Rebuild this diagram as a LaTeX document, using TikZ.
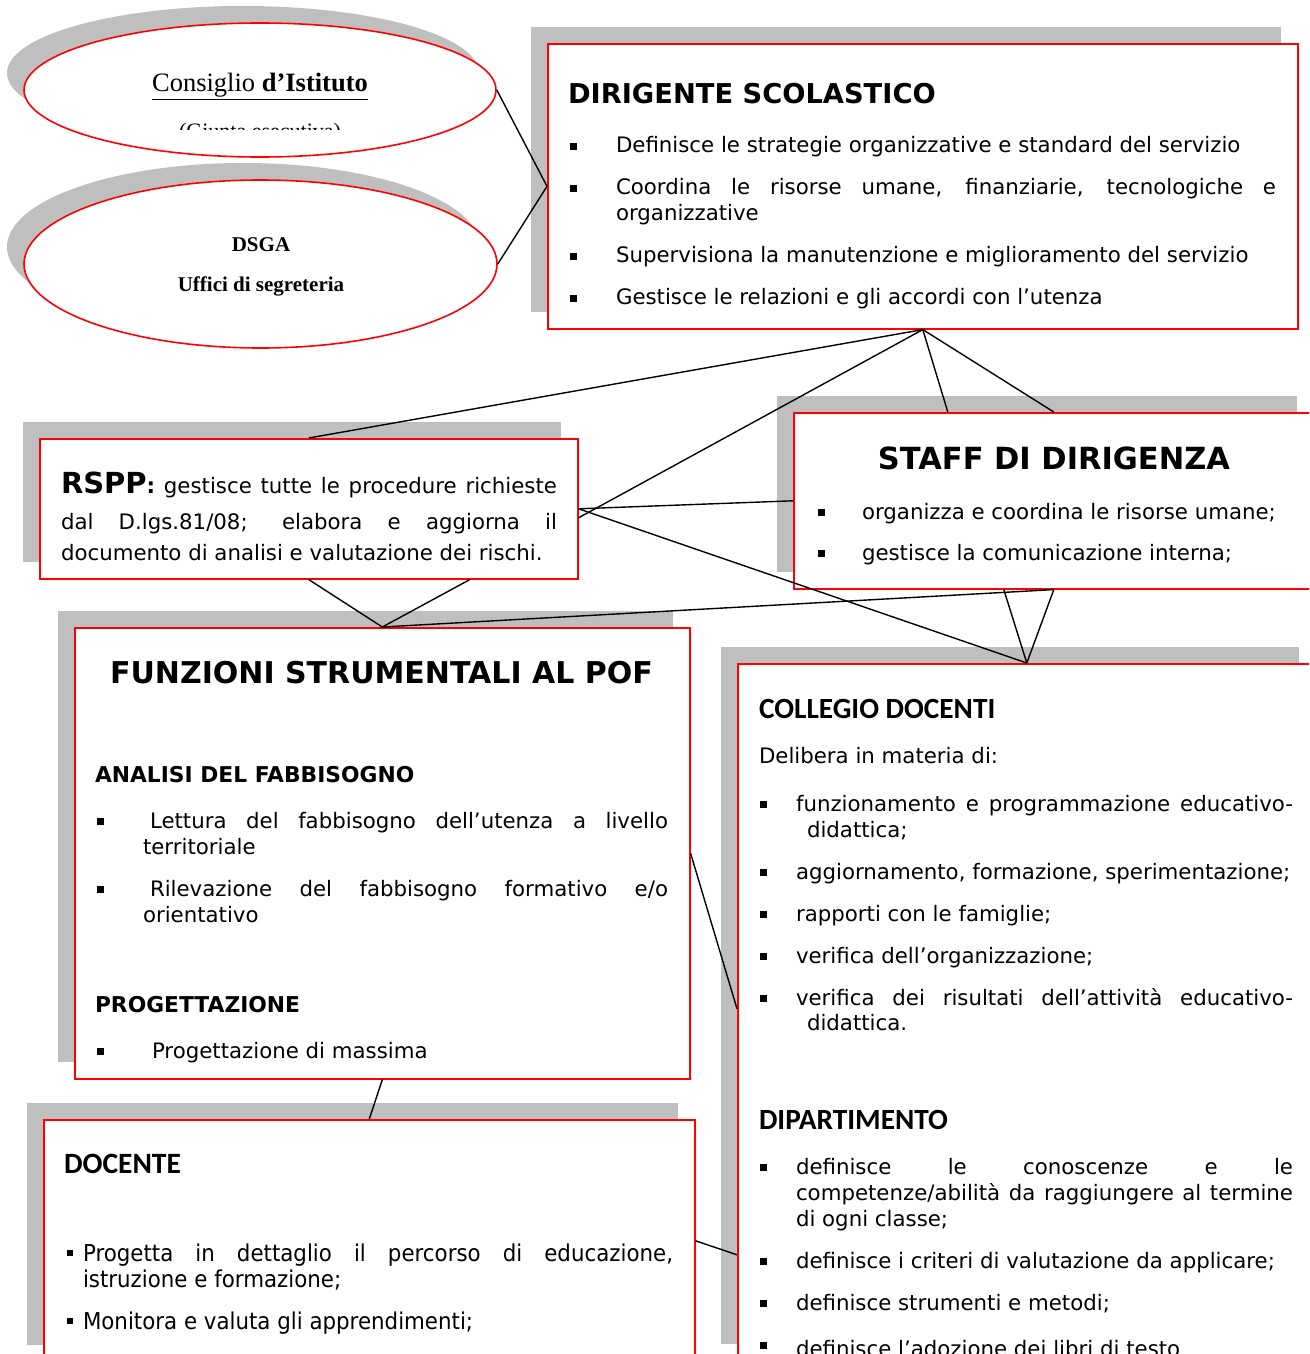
\documentclass[tikz,border=0pt]{standalone}
\usepackage{fontspec}
\setmainfont{DejaVu Sans}
\newfontfamily\carl{Carlito}
\newfontfamily\tnr{Liberation Serif}
\newfontfamily\cond[FakeStretch=0.92]{DejaVu Sans}
\usetikzlibrary{shapes.geometric,shadows,calc}
\definecolor{shade}{RGB}{191,191,191}
\newcommand\fb{\fontsize{21.3}{26}\selectfont}
\begin{document}
\begin{tikzpicture}[x=1pt,y=-1pt,
  shad/.style={drop shadow={shadow xshift=-17pt,shadow yshift=17pt,fill=shade,opacity=1}},
  box/.style={rectangle,draw=red,line width=1.6pt,fill=white,anchor=north west,inner sep=0pt,shad},
  ell/.style={ellipse,draw=red,line width=1.6pt,fill=white,inner sep=0pt,shad},
  txt/.style={anchor=base west,inner sep=0pt,outer sep=0pt,font=\fb},
  ctxt/.style={anchor=base,inner sep=0pt,outer sep=0pt},
  bul/.style={rectangle,fill=black,minimum size=7pt,inner sep=0pt},
  sbul/.style={rectangle,fill=black,minimum size=6pt,inner sep=0pt},
  conn/.style={draw=black,line width=1.4pt}]
\useasboundingbox (0,0) rectangle (1309,1354);
\clip (0,0) rectangle (1309,1354);
\fill[white] (0,0) rectangle (1309,1354);

% ---- ellipses
\node[ell,minimum width=472pt,minimum height=134pt] (ell1) at (260,90) {};
\node[ell,minimum width=473pt,minimum height=168pt] (ell2) at (260.5,264) {};
\node[ctxt,font=\tnr\fontsize{26.5}{30}\selectfont] (ell1t) at (260,92) {\underline{Consiglio \textbf{d’Istituto}}};
\begin{scope}
\clip (100,100) rectangle (420,129.5);
\node[ctxt,font=\tnr\fontsize{22}{25}\selectfont] (ell1s) at (260,138) {(Giunta esecutiva)};
\end{scope}
\node[ctxt,font=\tnr\bfseries\fontsize{21}{25}\selectfont] (ell2t) at (261,251) {DSGA};
\node[ctxt,font=\tnr\bfseries\fontsize{21}{25}\selectfont] (ell2s) at (261,291) {Uffici di segreteria};

% ---- Dirigente
\node[box,minimum width=750pt,minimum height=285pt] (ds) at (547,43) {};
\node[txt,font=\bfseries\fontsize{27.3}{32}\selectfont] (dsT) at (568,103) {DIRIGENTE SCOLASTICO};
\node[bul] (dsb1) at (573.5,146) {};
\node[bul] (dsb2) at (573.5,188) {};
\node[bul] (dsb3) at (573.5,256) {};
\node[bul] (dsb4) at (573.5,298) {};
\node[txt] (ds1) at (616,152) {Definisce le strategie organizzative e standard del servizio};
\node[txt] (ds2a) at (616,194) {\makebox[660pt][s]{Coordina le risorse umane, finanziarie, tecnologiche e}};
\node[txt] (ds2b) at (616,220) {organizzative};
\node[txt] (ds3) at (616,262) {Supervisiona la manutenzione e miglioramento del servizio};
\node[txt] (ds4) at (616,304) {Gestisce le relazioni e gli accordi con l’utenza};

% ---- RSPP
\node[box,minimum width=538pt,minimum height=140pt] (rspp) at (39,438) {};
\node[txt] (rs1) at (61,493) {\makebox[496pt][s]{{\fontsize{29}{34}\selectfont\bfseries RSPP}\textbf{:} gestisce tutte le procedure richieste}};
\node[txt] (rs2) at (61,529) {\makebox[496pt][s]{dal D.lgs.81/08; elabora e aggiorna il}};
\node[txt] (rs3) at (61,560) {documento di analisi e valutazione dei rischi.};

% ---- Staff
\node[box,minimum width=520pt,minimum height=176pt] (staff) at (793,412) {};
\node[ctxt,font=\bfseries\fontsize{30.5}{36}\selectfont] (stT) at (1054,469) {STAFF DI DIRIGENZA};
\node[bul] (stb1) at (821.5,512) {};
\node[bul] (stb2) at (821.5,553) {};
\node[txt] (st1) at (862,519) {organizza e coordina le risorse umane;};
\node[txt] (st2) at (862,560) {gestisce la comunicazione interna;};

% ---- Funzioni
\node[box,minimum width=615pt,minimum height=451pt] (funz) at (74,627) {};
\node[ctxt,font=\bfseries\fontsize{30}{36}\selectfont] (fuT) at (381.5,683) {FUNZIONI STRUMENTALI AL POF};
\node[txt,font=\bfseries\fontsize{21.8}{26}\selectfont] (fuA) at (95,782) {ANALISI DEL FABBISOGNO};
\node[bul] (fub1) at (100.5,821) {};
\node[bul] (fub2) at (100.5,889) {};
\node[bul] (fub3) at (100.5,1051) {};
\node[txt] (fu1a) at (150,828) {\makebox[518pt][s]{Lettura del fabbisogno dell’utenza a livello}};
\node[txt] (fu1b) at (143,854) {territoriale};
\node[txt] (fu2a) at (150,896) {\makebox[518pt][s]{Rilevazione del fabbisogno formativo e/o}};
\node[txt] (fu2b) at (143,922) {orientativo};
\node[txt,font=\bfseries\fontsize{21.8}{26}\selectfont] (fuP) at (95,1012) {PROGETTAZIONE};
\node[txt] (fu3) at (152,1058) {Progettazione di massima};

% ---- Collegio
\node[box,minimum width=578pt,minimum height=697pt] (coll) at (737,663) {};
\node[txt,font=\carl\bfseries\fontsize{29.3}{34}\selectfont] (coT) at (759,718) {COLLEGIO DOCENTI};
\node[txt] (coD) at (759,763) {Delibera in materia di:};
\node[bul] (cob1) at (763.5,804) {};
\node[bul] (cob2) at (763.5,872) {};
\node[bul] (cob3) at (763.5,914) {};
\node[bul] (cob4) at (763.5,956) {};
\node[bul] (cob5) at (763.5,998) {};
\node[txt] (co1a) at (796,811) {\makebox[497pt][s]{funzionamento e programmazione educativo-}};
\node[txt] (co1b) at (807,837) {didattica;};
\node[txt] (co2) at (796,879) {aggiornamento, formazione, sperimentazione;};
\node[txt] (co3) at (796,921) {rapporti con le famiglie;};
\node[txt] (co4) at (796,963) {verifica dell’organizzazione;};
\node[txt] (co5a) at (796,1005) {\makebox[497pt][s]{verifica dei risultati dell’attività educativo-}};
\node[txt] (co5b) at (807,1030) {didattica.};
\node[txt,font=\carl\bfseries\fontsize{29.3}{34}\selectfont] (diT) at (759,1129) {DIPARTIMENTO};
\node[bul] (dib1) at (763.5,1167) {};
\node[bul] (dib2) at (763.5,1261) {};
\node[bul] (dib3) at (763.5,1303) {};
\node[bul] (dib4) at (763.5,1345) {};
\node[txt] (di1a) at (796,1174) {\makebox[497pt][s]{definisce le conoscenze e le}};
\node[txt] (di1b) at (796,1200) {\makebox[497pt][s]{competenze/abilità da raggiungere al termine}};
\node[txt] (di1c) at (796,1226) {di ogni classe;};
\node[txt] (di2) at (796,1268) {definisce i criteri di valutazione da applicare;};
\node[txt] (di3) at (796,1310) {definisce strumenti e metodi;};
\node[txt] (di4) at (796,1356) {definisce l’adozione dei libri di testo};

% ---- Docente
\node[box,minimum width=651pt,minimum height=242pt] (doc) at (43,1119) {};
\node[txt,font=\carl\bfseries\fontsize{29.5}{34}\selectfont] (doT) at (64,1173) {DOCENTE};
\node[sbul] (dob1) at (69.5,1253) {};
\node[sbul] (dob2) at (69.5,1321) {};
\node[txt,font=\cond\fontsize{23.2}{27}\selectfont] (do1a) at (83,1261) {\makebox[590pt][s]{Progetta in dettaglio il percorso di educazione,}};
\node[txt,font=\cond\fontsize{23.2}{27}\selectfont] (do1b) at (83,1287) {istruzione e formazione;};
\node[txt,font=\cond\fontsize{23.2}{27}\selectfont] (do2) at (83,1329) {Monitora e valuta gli apprendimenti;};

% ---- connectors
\draw[conn] (ell1.east) -- (ds.west);
\draw[conn] (ell2.east) -- (ds.west);
\draw[conn] (ds.south) -- (rspp.north);
\draw[conn] (ds.south) -- ([yshift=-9pt]rspp.east);
\draw[conn] (ds.south) -- ([xshift=-106pt]staff.north);
\draw[conn] (ds.south) -- (staff.north);
\draw[conn] (rspp.east) -- (staff.west);
\draw[conn] (rspp.east) -- (coll.north);
\draw[conn] (rspp.south) -- (funz.north);
\draw[conn] ([xshift=161pt]rspp.south) -- (funz.north);
\draw[conn] (funz.north) -- (staff.south);
\draw[conn] ([xshift=-50pt]staff.south) -- (coll.north);
\draw[conn] (staff.south) -- (coll.north);
\draw[conn] (funz.east) -- ([yshift=3.5pt]coll.west);
\draw[conn] (funz.south) -- (doc.north);
\draw[conn] (doc.east) -- ([yshift=-242.5pt]coll.west);
\end{tikzpicture}
\end{document}
